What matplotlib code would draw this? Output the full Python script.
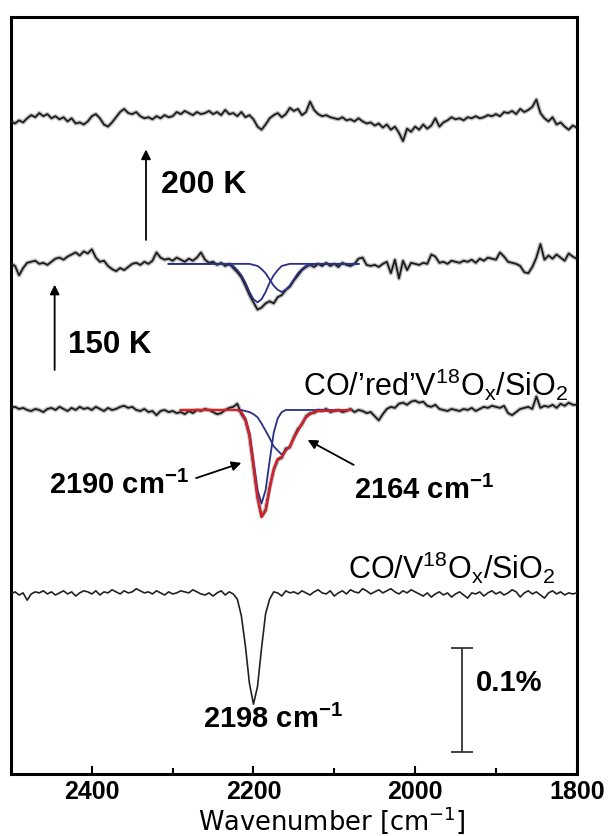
import numpy as np
import matplotlib
matplotlib.use('Agg')
import matplotlib.pyplot as plt

plt.rcParams['font.family'] = ['Liberation Sans', 'DejaVu Sans']
plt.rcParams['mathtext.fontset'] = 'custom'
plt.rcParams['mathtext.rm'] = 'Liberation Sans'
plt.rcParams['mathtext.default'] = 'regular'

# measured spectra: 2500 -> 1800 cm-1, 5 cm-1 steps, values in 0.001 %
wn = np.arange(2500, 1799, -5)

s_200K = [
    -1, -3, 0, -2, 2, 5, 3, 7, 4, 6,
    2, 4, 1, 3, -1, 2, -3, -2, -4, -1,
    4, 6, 2, -4, -6, -2, 3, 8, 11, 7,
    6, 8, 4, 2, 3, 1, 4, 2, 5, 3,
    4, 8, 6, 9, 7, 5, 8, 6, 7, 9,
    6, 8, 5, 10, 6, 7, 4, 8, 3, 5,
    1, -6, -9, -4, 2, 5, 7, 3, 6, 12,
    9, 11, 5, 8, 18, 10, 6, 4, 5, 3,
    2, 1, 3, 0, 1, -1, 2, -1, -3, -2,
    -5, -3, -7, -4, -9, -6, -12, -20, -8, -11,
    -6, -9, -4, -8, -5, 2, -6, -2, 0, 3,
    1, 2, 0, 3, 2, 4, 2, 3, 5, 4,
    6, 4, 8, 7, 9, 6, 11, 8, 10, 13,
    20, 7, 2, -1, 3, -4, -2, -6, -9, -5,
    -7]

s_150K = [
    0, -2, -11, -4, 1, 2, 3, 0, 1, -1,
    2, 5, 6, 4, 7, 9, 11, 8, 12, 10,
    14, 6, 2, 3, -2, -5, -7, -4, -6, -3,
    0, 1, -1, 2, 0, 3, 11, 6, 4, 5,
    3, 6, 4, 2, 5, 3, 6, 11, 4, 1,
    2, -1, 1, -2, 0, -4, -8, -13, -21, -30,
    -37, -44, -42, -38, -36, -38, -32, -30, -25, -22,
    -16, -11, -6, -3, -1, -3, 0, -2, 1, -2,
    0, -3, 1, -1, -2, 0, 5, 6, -1, -2,
    -1, -3, 0, 2, -9, 4, -14, 3, -6, 1,
    0, -1, 1, 0, 9, 7, 1, 2, 0, 3,
    2, 1, 3, 2, 4, 1, 5, 3, 6, 5,
    4, 11, 7, 2, 1, 0, -2, -8, -9, -3,
    6, 19, 4, 8, 5, 9, 6, 3, 10, 7,
    5]

s_red = [
    2, 3, 1, 2, 0, -1, 1, 0, -2, 1,
    2, 0, 3, 1, -1, 2, 0, 3, 1, 2,
    0, 3, 1, -1, 2, 0, 1, 3, 4, 2,
    3, 0, -1, 1, -2, -1, -5, -1, 0, -2,
    -1, -3, -2, -4, -1, -3, 0, -1, 1, 0,
    -2, -4, -3, 0, 2, 3, 6, -4, -10, -25,
    -55, -84, -102, -96, -74, -58, -48, -46, -37, -36,
    -26, -18, -14, -6, -3, -3, 0, -1, 1, -2,
    -1, 0, -2, -1, 1, -2, 0, -1, -3, -2,
    -6, -10, -4, 1, 3, 2, 6, 7, 5, 8,
    9, 7, 8, 4, 3, 5, 1, 0, -1, 1,
    0, -1, 1, 0, 2, -1, 1, 3, 2, 4,
    3, 2, 4, -3, -5, -2, 1, 2, 3, 1,
    13, 2, 4, 3, 5, 2, 6, 4, 7, 5,
    5]

s_ox = [
    0, 2, -1, 1, -6, 0, 2, 1, 3, 0,
    2, -1, 1, 3, 0, 2, -2, 1, 3, 2,
    0, 3, -1, 2, 1, 4, 2, 0, 3, 1,
    2, 5, 3, 1, 2, 0, 3, 1, -1, 2,
    0, 1, 3, 2, 1, 4, 2, 0, -1, 1,
    -2, 1, 3, -1, 2, 0, -5, -21, -50, -86,
    -106, -89, -52, -19, -5, 2, 1, -2, 3, 1,
    2, 0, 3, 1, -1, 2, 4, 1, 0, 3,
    -2, 1, 3, 0, 4, 2, 1, 5, 3, 0,
    2, 4, 1, 3, 5, 2, 0, 3, 1, 4,
    2, 0, -2, 1, -3, 0, 2, -1, 1, -3,
    0, 2, -1, -4, 1, 0, 2, -2, 1, 3,
    0, 2, -1, 1, 4, 2, -3, 1, 3, 0,
    2, -1, -4, 1, 3, 0, 2, -1, 1, 0,
    1]

# fitted components (0.001 %)
wn_fit150 = np.concatenate(([2305], np.arange(2240, 2119, -5), [2070]))
fit150_a = [0, 0, 0, 1, 2, 6, 11, 18, 27, 34, 37, 34, 27, 18, 11, 6, 2, 1,
            0, 0, 0, 0, 0, 0, 0, 0, 0]
fit150_b = [0, 0, 0, 0, 0, 0, 0, 0, 0, 1, 2, 5, 9, 15, 21, 25, 27, 25, 21,
            15, 9, 5, 2, 1, 0, 0, 0]

wn_fitred = np.concatenate(([2290], np.arange(2240, 2119, -5), [2080]))
fitred_2190 = [0, 0, 0, 0, 0, 0, 2, 8, 22, 49, 77, 90, 77, 49, 22, 8, 2,
               0, 0, 0, 0, 0, 0, 0, 0, 0, 0]
fitred_2164 = [0, 0, 0, 0, 0, 0, 0, 1, 2, 4, 7, 13, 20, 27, 35, 39, 43, 39,
               35, 27, 20, 13, 7, 4, 2, 1, 0]

# vertical offsets of the stacked spectra (%)
off_200K, off_150K, off_red, off_ox = 0.640, 0.502, 0.3615, 0.1846

fig = plt.figure(figsize=(6.11, 8.36), dpi=100)
ax = fig.add_axes([0.018, 0.0742, 0.926, 0.9055])

blue = '#2b2f86'
red = '#d3222a'


def noisy(y):
    ax.plot(wn, y, color='0.55', lw=3.2, alpha=0.55, zorder=2)
    ax.plot(wn, y, color='#1c1c1c', lw=1.3, zorder=3)


noisy(off_200K + np.array(s_200K) * 1e-3)
noisy(off_150K + np.array(s_150K) * 1e-3)
noisy(off_red + np.array(s_red) * 1e-3)
ax.plot(wn, off_ox + np.array(s_ox) * 1e-3, color='#222222', lw=1.2, zorder=3)

ax.plot(wn_fit150, off_150K - np.array(fit150_a) * 1e-3, color=blue, lw=1.3, zorder=4)
ax.plot(wn_fit150, off_150K - np.array(fit150_b) * 1e-3, color=blue, lw=1.3, zorder=4)
ax.plot(wn_fitred, off_red - np.array(fitred_2190) * 1e-3, color=blue, lw=1.3, zorder=4)
ax.plot(wn_fitred, off_red - np.array(fitred_2164) * 1e-3, color=blue, lw=1.3, zorder=4)
ax.plot(wn_fitred, off_red - (np.array(fitred_2190) + np.array(fitred_2164)) * 1e-3,
        color=red, lw=1.8, zorder=5)

arr = dict(arrowstyle='-|>', color='k', lw=1.3, mutation_scale=14, shrinkA=0, shrinkB=0)
ax.annotate('', xy=(2333, 0.612), xytext=(2333, 0.525), arrowprops=arr)
ax.annotate('', xy=(2446, 0.482), xytext=(2446, 0.400), arrowprops=arr)
ax.annotate('', xy=(2215, 0.3106), xytext=(2271, 0.296), arrowprops=arr)
ax.annotate('', xy=(2133, 0.3327), xytext=(2076, 0.3087), arrowprops=arr)

ax.text(2315, 0.578, '200 K', fontsize=23, fontweight='bold', va='center', ha='left')
ax.text(2429, 0.424, '150 K', fontsize=22.5, fontweight='bold', va='center', ha='left')
ax.text(1811, 0.3856, "CO/\u2019red\u2019V$^{18}$O$_x$/SiO$_2$", fontsize=22,
        va='center', ha='right')
ax.text(1826, 0.2096, 'CO/V$^{18}$O$_x$/SiO$_2$', fontsize=22, va='center', ha='right')
ax.text(2453, 0.2885, '2190 cm$^{-1}$', fontsize=21, fontweight='bold', va='center', ha='left')
ax.text(2076, 0.2846, '2164 cm$^{-1}$', fontsize=21, fontweight='bold', va='center', ha='left')
ax.text(2263, 0.0635, '2198 cm$^{-1}$', fontsize=21, fontweight='bold', va='center', ha='left')
ax.text(1925, 0.099, '0.1%', fontsize=21, fontweight='bold', va='center', ha='left')

# 0.1 % scale bar
ax.errorbar([1942], [0.0827], yerr=[0.05], color='#333333', lw=1.3, capsize=8, capthick=1.3)

ax.set_xlim(2500, 1800)
ax.set_ylim(0.0115, 0.7394)
ax.set_yticks([])
ax.set_xticks([2400, 2200, 2000, 1800])
ax.set_xticks([2300, 2100, 1900], minor=True)
ax.tick_params(axis='x', which='major', direction='in', length=6, width=1.5, pad=4,
               labelsize=18)
ax.tick_params(axis='x', which='minor', direction='in', length=4, width=1.5)
for lab in ax.get_xticklabels():
    lab.set_fontweight('bold')
for sp in ax.spines.values():
    sp.set_linewidth(2.2)
ax.set_xlabel('Wavenumber [cm$^{-1}$]', fontsize=18.5, family='DejaVu Sans')
ax.xaxis.set_label_coords(0.567, -0.040)

fig.savefig('out.png', dpi=100)
